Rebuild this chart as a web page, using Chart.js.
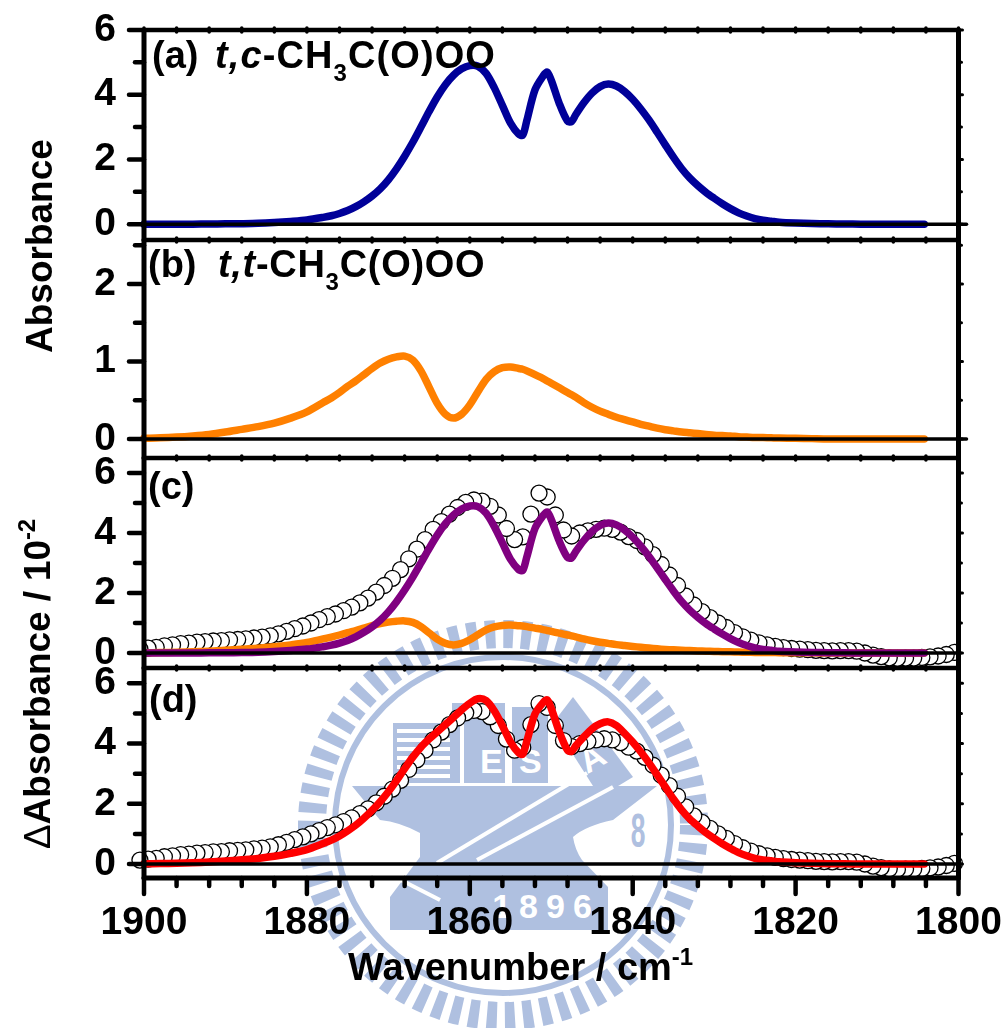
<!DOCTYPE html>
<html>
<head>
<meta charset="utf-8">
<script src="https://cdn.jsdelivr.net/npm/chart.js@4/dist/chart.umd.js"></script>
<style>
html, body { margin: 0; padding: 0; background: #fff; }
#page { position: relative; width: 1003px; height: 1028px; overflow: hidden; }
#page canvas, #seal { position: absolute; left: 0; top: 0; }
.txt { position: absolute; font: bold 38px "Liberation Sans", Arial, sans-serif; line-height: 1; white-space: nowrap; color: #000; z-index: 5; }
.txt sub { font-size: 24px; line-height: 0; vertical-align: -13px; }
.txt sup { font-size: 24px; line-height: 0; vertical-align: 15px; }
.rot { transform: rotate(-90deg); transform-origin: 0 0; font-size: 37px; }
.formula { position: absolute; }
</style>
</head>
<body>
<div id="page">
<svg id="seal" width="1003" height="1028" fill="#afc0e0">
  <circle cx="503" cy="825" r="191" fill="none" stroke="#afc0e0" stroke-width="28" stroke-dasharray="10 8"/>
  <circle cx="503" cy="825" r="168" fill="none" stroke="#afc0e0" stroke-width="6"/>
  <path d="M393 723H452V703H505V783H393Z"/>
  <rect x="512" y="707" width="36" height="76"/>
  <path d="M573 697L633 777L600 797L553 723Z"/>
  <path d="M352 786H657L613 820Q585 826 573 837Q575 850 582 860L608 887V930H390V897L420 857V833Q400 822 380 820Z"/>
  <g stroke="#fff" stroke-width="4" fill="none">
    <path d="M397 731H450M397 740H450M397 749H450M397 758H450M397 767H450M397 776H450"/>
    <path d="M462 723V783"/>
    <path d="M437 863L587 773"/>
    <path d="M477 860L613 787"/>
    <path d="M395 877L440 900"/>
  </g>
  <g font-family="Liberation Sans" font-weight="bold" fill="#fff">
    <text x="480" y="773" font-size="34">E</text>
    <text x="519" y="773" font-size="34">S</text>
    <text x="598" y="768" font-size="34" transform="rotate(-30 598 768)" text-anchor="middle">A</text>
    <text x="546" y="918" font-size="34" text-anchor="middle" letter-spacing="8">1896</text>
  </g>
  <text x="638" y="845" font-family="Liberation Sans" font-weight="bold" font-size="44" text-anchor="middle" fill="#afc0e0" transform="translate(638 828) scale(0.6 1.1) translate(-638 -828)">8</text>
</svg>
<canvas id="panelA" width="1003" height="1028"></canvas>
<canvas id="panelB" width="1003" height="1028"></canvas>
<canvas id="panelC" width="1003" height="1028"></canvas>
<canvas id="panelD" width="1003" height="1028"></canvas>
<div class="txt" style="left:152px;top:36px">(a)</div>
<div class="txt" style="left:215px;top:36px;letter-spacing:1.1px"><i>t,c</i>-CH<sub>3</sub>C(O)OO</div>
<div class="txt" style="left:148px;top:245px">(b)</div>
<div class="txt" style="left:218px;top:245px;letter-spacing:0.7px"><i>t,t</i>-CH<sub>3</sub>C(O)OO</div>
<div class="txt" style="left:148px;top:467px">(c)</div>
<div class="txt" style="left:149px;top:680px">(d)</div>
<div class="txt rot" style="left:21px;top:353px">Absorbance</div>
<div class="txt rot" style="left:19px;top:849px;letter-spacing:-0.1px"><span style="font-weight:normal">&Delta;</span>Absorbance / 10<sup>-2</sup></div>
<div class="txt" style="left:348px;top:948px">Wavenumber / cm<sup>-1</sup></div>
</div>

<script>
// wavenumber grid of the simulated curves, denser around the sharp features
var lineWaves = [
  1900, 1898, 1896, 1894, 1892, 1890, 1888, 1886, 1884, 1882,
  1880, 1878, 1877, 1876, 1875, 1874, 1873, 1872, 1871, 1870,
  1869, 1868, 1867, 1866, 1865, 1864, 1863, 1862, 1861, 1860,
  1859, 1858, 1857, 1856, 1855, 1854, 1853.5, 1853, 1852, 1851,
  1850.5, 1850, 1849, 1848, 1847.5, 1847, 1846, 1845, 1844, 1843,
  1842, 1841, 1840, 1839, 1838, 1837, 1836, 1835, 1834, 1833,
  1832, 1831, 1830, 1829, 1828, 1827, 1826, 1825, 1824, 1823,
  1822, 1820, 1818, 1816, 1814, 1812, 1810, 1808, 1806, 1804.2
];
var tcValues = [
  0, 0, 0, 0, 0.005, 0.01, 0.015, 0.025, 0.05, 0.085,
  0.13, 0.21, 0.26, 0.33, 0.42, 0.54, 0.69, 0.87, 1.09, 1.37,
  1.71, 2.1, 2.53, 3.0, 3.48, 3.93, 4.31, 4.6, 4.8, 4.9,
  4.88, 4.66, 4.22, 3.67, 3.12, 2.78, 2.75, 3.2, 4.15, 4.58,
  4.7, 4.45, 3.72, 3.18, 3.17, 3.38, 3.75, 4.05, 4.25, 4.33,
  4.27, 4.1, 3.86, 3.56, 3.22, 2.84, 2.45, 2.07, 1.72, 1.43,
  1.19, 0.98, 0.8, 0.63, 0.48, 0.35, 0.25, 0.17, 0.12, 0.09,
  0.06, 0.035, 0.02, 0.01, 0.005, 0, 0, 0, 0, 0
];
var ttValues = [
  0.01, 0.015, 0.025, 0.04, 0.06, 0.09, 0.125, 0.16, 0.205, 0.27,
  0.35, 0.47, 0.53, 0.6, 0.68, 0.75, 0.83, 0.91, 0.98, 1.03,
  1.06, 1.07, 1.02, 0.88, 0.67, 0.46, 0.32, 0.27, 0.32, 0.44,
  0.61, 0.77, 0.87, 0.92, 0.93, 0.91, 0.9, 0.88, 0.83, 0.78,
  0.75, 0.72, 0.66, 0.6, 0.57, 0.54, 0.47, 0.41, 0.36, 0.32,
  0.28, 0.25, 0.22, 0.19, 0.165, 0.14, 0.12, 0.105, 0.09, 0.08,
  0.07, 0.06, 0.05, 0.045, 0.04, 0.03, 0.025, 0.02, 0.018, 0.015,
  0.012, 0.01, 0.005, 0, 0, 0, 0, 0, 0, 0
];
var fitValues = [
  0.01, 0.015, 0.025, 0.04, 0.065, 0.1, 0.14, 0.185, 0.255, 0.355,
  0.48, 0.68, 0.79, 0.93, 1.1, 1.29, 1.52, 1.78, 2.07, 2.4,
  2.77, 3.17, 3.55, 3.88, 4.15, 4.39, 4.63, 4.87, 5.12, 5.34,
  5.49, 5.43, 5.09, 4.59, 4.05, 3.69, 3.65, 4.08, 4.98, 5.36,
  5.45, 5.17, 4.38, 3.78, 3.74, 3.92, 4.22, 4.49, 4.66, 4.72,
  4.6, 4.34, 4.05, 3.72, 3.36, 2.96, 2.56, 2.16, 1.8, 1.5,
  1.26, 1.04, 0.85, 0.675, 0.52, 0.38, 0.275, 0.19, 0.138, 0.105,
  0.072, 0.045, 0.025, 0.01, 0.005, 0, 0, 0, 0, 0
];
// measured spectrum, open circles
var obsWaves = [
  1900.5, 1899.5, 1898.5, 1897.5, 1896.5, 1895.5, 1894.5, 1893.5, 1892.5, 1891.5,
  1890.5, 1889.5, 1888.5, 1887.5, 1886.5, 1885.5, 1884.5, 1883.5, 1882.5, 1881.5,
  1880.5, 1879.5, 1878.5, 1877.5, 1876.5, 1875.5, 1874.5, 1873.5, 1872.5, 1871.5,
  1870.5, 1869.5, 1868.5, 1867.5, 1866.5, 1865.5, 1864.5, 1863.5, 1862.5, 1861.5,
  1860.5, 1859.5, 1858.5, 1857.5, 1856.5, 1855.5, 1854.5, 1853.5, 1852.5, 1851.5,
  1850.5, 1849.5, 1848.5, 1847.5, 1846.5, 1845.5, 1844.5, 1843.5, 1842.5, 1841.5,
  1840.5, 1839.5, 1838.5, 1837.5, 1836.5, 1835.5, 1834.5, 1833.5, 1832.5, 1831.5,
  1830.5, 1829.5, 1828.5, 1827.5, 1826.5, 1825.5, 1824.5, 1823.5, 1822.5, 1821.5,
  1820.5, 1819.5, 1818.5, 1817.5, 1816.5, 1815.5, 1814.5, 1813.5, 1812.5, 1811.5,
  1810.5, 1809.5, 1808.5, 1807.5, 1806.5, 1805.5, 1804.5, 1803.5, 1802.5, 1801.5,
  1800.5
];
var obsValues = [
  0.13, 0.16, 0.19, 0.24, 0.27, 0.31, 0.33, 0.36, 0.38, 0.4,
  0.41, 0.44, 0.45, 0.47, 0.5, 0.53, 0.57, 0.64, 0.72, 0.81,
  0.9, 1.0, 1.11, 1.21, 1.3, 1.41, 1.53, 1.67, 1.83, 2.03,
  2.25, 2.49, 2.78, 3.14, 3.46, 3.78, 4.12, 4.38, 4.63, 4.85,
  5.02, 5.1, 5.06, 4.89, 4.6, 4.15, 3.78, 3.87, 4.63, 5.33,
  5.2, 4.6, 4.1, 3.9, 4.0, 4.07, 4.12, 4.16, 4.12, 4.03,
  3.88, 3.75, 3.54, 3.28, 2.95, 2.6, 2.25, 1.9, 1.6, 1.38,
  1.18, 1.0, 0.85, 0.68, 0.54, 0.43, 0.34, 0.27, 0.22, 0.18,
  0.15, 0.13, 0.11, 0.09, 0.08, 0.07, 0.08, 0.08, 0.06, 0,
  -0.07, -0.12, -0.16, -0.18, -0.17, -0.17, -0.15, -0.13, -0.1, -0.05,
  0.02
];

var xMajor = [1900, 1880, 1860, 1840, 1820, 1800];
var xMinor = [1896, 1892, 1888, 1884, 1876, 1872, 1868, 1864, 1856, 1852, 1848, 1844,
              1836, 1832, 1828, 1824, 1816, 1812, 1808, 1804];
var yMajorA = [0, 2, 4, 6], yMinorA = [1, 3, 5];
var yMajorB = [0, 1, 2], yMinorB = [0.5, 1.5, 2.5];
var yMajorC = [0, 2, 4, 6], yMinorC = [1, 3, 5];

var BLUE = '#000099', ORANGE = '#ff8000', PURPLE = '#800080', RED = '#ff0000';
var AXIS_LEFT = 144, AXIS_RIGHT = 958.5;

function pts(xs, ys) {
  return xs.map(function (x, i) { return { x: x, y: ys[i] }; });
}

function curve(ys, color, clip) {
  return {
    data: pts(lineWaves, ys), borderColor: color, borderWidth: 7.5, pointRadius: 0,
    tension: 0.3, borderCapStyle: 'round', borderJoinStyle: 'round',
    fill: false, clip: clip
  };
}

// drawn right to left: the left hand circle lies on top of its neighbour
function circles(clip) {
  return {
    data: pts(obsWaves, obsValues).reverse(), showLine: false, pointStyle: 'circle',
    pointRadius: 8, borderColor: '#000', backgroundColor: '#fff', borderWidth: 1.3,
    pointBorderColor: '#000', pointBackgroundColor: '#fff', pointBorderWidth: 1.3, clip: clip
  };
}

// frame, tick marks and the line at zero sit on top of the curves
var framePlugin = {
  id: 'frame',
  afterDatasetsDraw: function (chart, args, o) {
    var c = chart.ctx, a = chart.chartArea, xs = chart.scales.x, ys = chart.scales.y;
    function seg(x1, y1, x2, y2, w) {
      c.lineWidth = w;
      c.beginPath(); c.moveTo(x1, y1); c.lineTo(x2, y2); c.stroke();
    }
    c.save();
    c.strokeStyle = '#000';
    c.lineCap = 'round';
    seg(a.left, a.top, a.right, a.top, 4.5);
    seg(a.left, a.top, a.left, a.bottom, 5);
    seg(a.right, a.top, a.right, a.bottom, 5);
    xMajor.concat(xMinor).forEach(function (v) {
      var p = xs.getPixelForValue(v);
      seg(p, a.top - 2, p, a.top + 2, 3.5);
    });
    o.major.forEach(function (v) {
      var p = ys.getPixelForValue(v);
      seg(a.left - 15, p, a.left, p, 4.5);
      seg(a.right, p, a.right + 4, p, 3);
    });
    o.minor.forEach(function (v) {
      var p = ys.getPixelForValue(v);
      seg(a.left - 9, p, a.left, p, 4.5);
      seg(a.right, p, a.right + 3, p, 3);
    });
    var zero = ys.getPixelForValue(0);
    seg(a.left - 15, zero, a.right + o.zeroOut, zero, 3.5);
    if (o.bottom) {
      seg(a.left, a.bottom, a.right, a.bottom, 5);
      xMajor.forEach(function (v) {
        var p = xs.getPixelForValue(v);
        seg(p, a.bottom, p, a.bottom + 16, 4.5);
      });
      xMinor.forEach(function (v) {
        var p = xs.getPixelForValue(v);
        seg(p, a.bottom, p, a.bottom + 8, 4.5);
      });
    }
    c.restore();
  }
};

function panel(id, top, bottom, yMin, yMax, major, minor, datasets, isBottom, zeroOut) {
  return new Chart(document.getElementById(id), {
    type: 'line',
    data: { datasets: datasets },
    plugins: [framePlugin],
    options: {
      responsive: false,
      animation: false,
      events: [],
      layout: { padding: { left: 0, right: 1003 - AXIS_RIGHT, top: top, bottom: isBottom ? 0 : 1028 - bottom } },
      plugins: {
        legend: { display: false },
        tooltip: { enabled: false },
        frame: { major: major, minor: minor, bottom: isBottom, zeroOut: zeroOut }
      },
      scales: {
        x: {
          type: 'linear', reverse: true, min: 1800, max: 1900, display: isBottom,
          grid: { display: false }, border: { display: false },
          afterFit: function (s) { s.height = isBottom ? 1028 - bottom : 0; s.paddingLeft = 0; s.paddingRight = 0; },
          afterBuildTicks: function (s) { s.ticks = xMajor.map(function (v) { return { value: v }; }); },
          ticks: {
            font: { family: 'Liberation Sans', weight: 'bold', size: 39 }, color: '#000',
            padding: 14, maxRotation: 0, minRotation: 0, autoSkip: false,
            callback: function (v) { return String(v); }
          }
        },
        y: {
          type: 'linear', min: yMin, max: yMax,
          grid: { display: false }, border: { display: false },
          afterFit: function (s) { s.width = AXIS_LEFT; s.paddingTop = 0; s.paddingBottom = 0; },
          afterBuildTicks: function (s) { s.ticks = major.map(function (v) { return { value: v }; }); },
          ticks: {
            font: { family: 'Liberation Sans', weight: 'bold', size: 39 }, color: '#000',
            padding: 20, autoSkip: false, callback: function (v) { return String(v); }
          }
        }
      }
    }
  });
}

panel('panelA', 30, 240, -0.49, 6, yMajorA, yMinorA, [curve(tcValues, BLUE, false)], false, 8);
panel('panelB', 240, 458, -0.245, 2.568, yMajorB, yMinorB, [curve(ttValues, ORANGE, false)], false, 8);
panel('panelC', 458, 668, -0.5, 6.5, yMajorC, yMinorC,
  [curve(tcValues, PURPLE, 0), curve(ttValues, ORANGE, 0), circles(0)], false, 2);
panel('panelD', 668, 878, -0.465, 6.51, yMajorC, yMinorC,
  [curve(fitValues, RED, false), circles(false)], true, 2);
</script>
</body>
</html>
